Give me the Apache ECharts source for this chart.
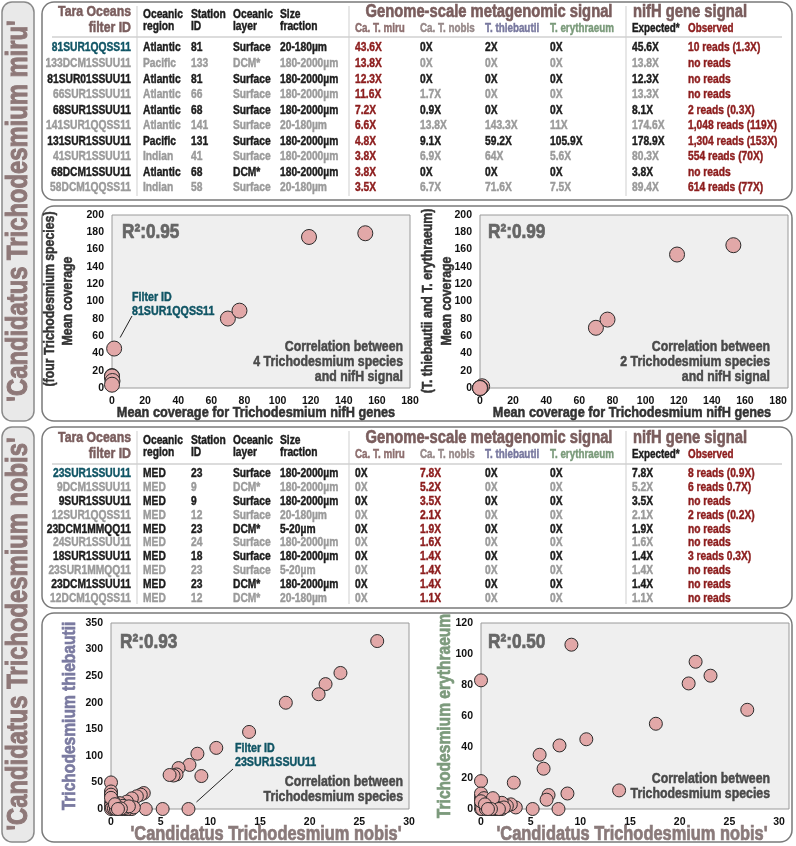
<!DOCTYPE html>
<html><head><meta charset="utf-8">
<script src="https://cdn.jsdelivr.net/npm/echarts@6/dist/echarts.min.js"></script>
<style>html,body{margin:0;padding:0;background:#fff}#c{width:796px;height:846px}</style>
</head><body><div id="c"></div><script>
// ---------- DATA: 'Candidatus Trichodesmium miru' table ----------
const t1Ids = ['81SUR1QQSS11','133DCM1SSUU11','81SUR01SSUU11','66SUR1SSUU11','68SUR1SSUU11','141SUR1QQSS11','131SUR1SSUU11','41SUR1SSUU11','68DCM1SSUU11','58DCM1QQSS11'];
const t1Region = ['Atlantic','Pacific','Atlantic','Atlantic','Atlantic','Atlantic','Pacific','Indian','Atlantic','Indian'];
const t1Station = ['81','133','81','66','68','141','131','41','68','58'];
const t1Layer = ['Surface','DCM*','Surface','Surface','Surface','Surface','Surface','Surface','DCM*','Surface'];
const t1Size = ['20-180µm','180-2000µm','180-2000µm','180-2000µm','180-2000µm','20-180µm','180-2000µm','180-2000µm','180-2000µm','20-180µm'];
const t1Miru = ['43.6X','13.8X','12.3X','11.6X','7.2X','6.6X','4.8X','3.8X','3.8X','3.5X'];
const t1Nobis = ['0X','0X','0X','1.7X','0.9X','13.8X','9.1X','6.9X','0X','6.7X'];
const t1Thieb = ['2X','0X','0X','0X','0X','143.3X','59.2X','64X','0X','71.6X'];
const t1Eryth = ['0X','0X','0X','0X','0X','11X','105.9X','5.6X','0X','7.5X'];
const t1Expected = ['45.6X','13.8X','12.3X','13.3X','8.1X','174.6X','178.9X','80.3X','3.8X','89.4X'];
const t1Observed = ['10 reads (1.3X)','no reads','no reads','no reads','2 reads (0.3X)','1,048 reads (119X)','1,304 reads (153X)','554 reads (70X)','no reads','614 reads (77X)'];

// scatter: nifH observed coverage vs expected coverage
const s1NifH = [1.3, 0, 0, 0, 0.3, 119, 153, 70, 0, 77];
const s1FourSpecies = [45.6, 13.8, 12.3, 13.3, 8.1, 174.6, 178.9, 80.3, 3.8, 89.4];
const s1TwoSpecies = [2, 0, 0, 0, 0, 154.3, 165.1, 69.6, 0, 79.1];

// ---------- DATA: 'Candidatus Trichodesmium nobis' table ----------
const t2Ids = ['23SUR1SSUU11','9DCM1SSUU11','9SUR1SSUU11','12SUR1QQSS11','23DCM1MMQQ11','24SUR1SSUU11','18SUR1SSUU11','23SUR1MMQQ11','23DCM1SSUU11','12DCM1QQSS11'];
const t2Region = ['MED','MED','MED','MED','MED','MED','MED','MED','MED','MED'];
const t2Station = ['23','9','9','12','23','24','18','23','23','12'];
const t2Layer = ['Surface','DCM*','Surface','Surface','DCM*','Surface','Surface','Surface','DCM*','DCM*'];
const t2Size = ['180-2000µm','180-2000µm','180-2000µm','20-180µm','5-20µm','180-2000µm','180-2000µm','5-20µm','180-2000µm','20-180µm'];
const t2Miru = ['0X','0X','0X','0X','0X','0X','0X','0X','0X','0X'];
const t2Nobis = ['7.8X','5.2X','3.5X','2.1X','1.9X','1.6X','1.4X','1.4X','1.4X','1.1X'];
const t2Thieb = ['0X','0X','0X','0X','0X','0X','0X','0X','0X','0X'];
const t2Eryth = ['0X','0X','0X','0X','0X','0X','0X','0X','0X','0X'];
const t2Expected = ['7.8X','5.2X','3.5X','2.1X','1.9X','1.6X','1.4X','1.4X','1.4X','1.1X'];
const t2Observed = ['8 reads (0.9X)','6 reads 0.7X)','no reads','2 reads (0.2X)','no reads','no reads','3 reads 0.3X)','no reads','no reads','no reads'];

// scatter: species coverages across samples
const s2Nobis = [26.8,23.1,21.6,20.9,17.6,13.9,10.6,9.1,8.7,7.9,6.8,6.6,6.3,5.9,7.8,5.2,3.5,3.3,3.0,2.6,2.1,1.6,1.1,0.6,0,0,0,0,0,0,0,0.1,0.3,0.5,0.8,1.4,1.9,2.1,1.6,1.1,1.4,0.9,0.2,0,2.3,1.2,0.4,1.8,1.0,0.7];
const s2Thieb = [316,256,235,216,200,145,115,62,104,83,77,65,63,64,0,0,0,30,27,24,20,14,8,5,50,30,33,27,12,6,0,2,1,0,3,0,0,0,0,0,2,11,16,21,3,6,9,5,1,0];
const s2Eryth = [64,86,95,81,55,12,45,106,10,41,9,6,26,35,0,0,1,17,3,2,4,1,2,5,83,18,8,6,10,3,0,0,7,0,1,0,0,0,0,0,0,2,4,5,1,7,3,0,0,0];

// ---------- RENDER ----------
const chart = echarts.init(document.getElementById('c'), null, {renderer: 'canvas'});
const F = '"Liberation Sans",Arial,Helvetica,sans-serif';
const SX = 0.82; // horizontal squeeze to mimic a condensed face
const font = sz => 'bold ' + sz + 'px ' + F;
const BROWN = '#7a5d5d', RED = '#8c1c1c', TEAL = '#0f5464', DARK = '#1c1c1c', LIGHT = '#9a9a9a';

function T(x, y, text, sz, color, align, extra) {
  const c = color || DARK;
  return Object.assign({type: 'text', x: x, y: y, z: 100, silent: true, scaleX: SX,
    style: {text: text, font: font(sz), fill: c, stroke: c, lineWidth: Math.max(0.35, sz * 0.035),
      textAlign: align || 'left', textVerticalAlign: 'middle', align: align || 'left', verticalAlign: 'middle'}}, extra || {});
}
function R(x, y, w, h, fill, stroke, r, z) {
  return {type: 'rect', z: z === undefined ? -10 : z, silent: true, shape: {x: x, y: y, width: w, height: h, r: r || 0},
    style: {fill: fill, stroke: stroke, lineWidth: 1.5}};
}
function L(x1, y1, x2, y2, color, w, z) {
  return {type: 'line', z: z || 50, silent: true, shape: {x1: x1, y1: y1, x2: x2, y2: y2}, style: {stroke: color, lineWidth: w || 1}};
}

const colX = {id: 131, region: 143, station: 191, layer: 233, size: 280, miru: 355, nobis: 420, thieb: 485, eryth: 550, exp: 632, obs: 688};

function tableHeader(y) {
  const e = [];
  e.push(T(colX.id, y, 'Tara Oceans', 15, BROWN, 'right'));
  e.push(T(colX.id, y + 16, 'filter ID', 15, BROWN, 'right'));
  [['Oceanic', 'region', colX.region], ['Station', 'ID', colX.station], ['Oceanic', 'layer', colX.layer], ['Size', 'fraction', colX.size]].forEach(h => {
    e.push(T(h[2], y + 3, h[0], 12.5, DARK));
    e.push(T(h[2], y + 15, h[1], 12.5, DARK));
  });
  e.push(T(489, y, 'Genome-scale metagenomic signal', 18, BROWN, 'center'));
  e.push(T(colX.miru, y + 17, 'Ca. T. miru', 12, '#8d6e6e'));
  e.push(T(colX.nobis, y + 17, 'Ca. T. nobis', 12, '#968888'));
  e.push(T(colX.thieb, y + 17, 'T. thiebautii', 12, '#77779e'));
  e.push(T(colX.eryth, y + 17, 'T. erythraeum', 12, '#7a9a7a'));
  e.push(T(633, y, 'nifH gene signal', 18, BROWN));
  e.push(T(colX.exp, y + 17, 'Expected*', 12, DARK));
  e.push(T(colX.obs, y + 17, 'Observed', 12, RED));
  return e;
}
function tableRows(y0, step, sz, cols, redKey) {
  const e = [];
  const n = cols.id.length;
  for (let i = 0; i < n; i++) {
    const y = y0 + i * step;
    const c = i % 2 === 0 ? DARK : LIGHT;
    e.push(T(colX.id, y, cols.id[i], sz, i === 0 ? TEAL : c, 'right'));
    ['region', 'station', 'layer', 'size', 'miru', 'nobis', 'thieb', 'eryth', 'exp'].forEach(k => {
      e.push(T(colX[k], y, cols[k][i], sz, k === redKey ? RED : c));
    });
    e.push(T(colX.obs, y, cols.obs[i], sz, RED));
  }
  return e;
}

const g = [];
// left side label boxes
g.push(R(2, 2, 32, 419, '#e9e9e9', '#8a8a8a', 10));
g.push(R(2, 427, 32, 415, '#e9e9e9', '#8a8a8a', 10));
g.push(T(19, 211, "'Candidatus Trichodesmium miru'", 29, '#8e7878', 'center', {rotation: Math.PI / 2}));
g.push(T(19, 634, "'Candidatus Trichodesmium nobis'", 29, '#8e7878', 'center', {rotation: Math.PI / 2}));
// right panels
g.push(R(42, 2, 750, 198, '#fff', '#7a7a7a', 12));
g.push(R(42, 206, 750, 215, '#fff', '#7a7a7a', 12));
g.push(R(42, 427, 750, 181, '#fff', '#7a7a7a', 12));
g.push(R(42, 613, 750, 229, '#fff', '#7a7a7a', 12));
// table 1
g.push(...tableHeader(12));
g.push(L(52, 37, 782, 37, '#dcdcdc', 2));
[137, 349, 626].forEach(x => g.push(L(x, 6, x, 196, '#cfcfcf', 1)));
g.push(...tableRows(48, 15.56, 12.5, {id: t1Ids, region: t1Region, station: t1Station, layer: t1Layer, size: t1Size, miru: t1Miru, nobis: t1Nobis, thieb: t1Thieb, eryth: t1Eryth, exp: t1Expected, obs: t1Observed}, 'miru'));
// table 2
g.push(...tableHeader(438));
g.push(L(52, 464, 782, 464, '#dcdcdc', 2));
[137, 349, 626].forEach(x => g.push(L(x, 431, x, 604, '#cfcfcf', 1)));
g.push(...tableRows(474, 13.8, 12.5, {id: t2Ids, region: t2Region, station: t2Station, layer: t2Layer, size: t2Size, miru: t2Miru, nobis: t2Nobis, thieb: t2Thieb, eryth: t2Eryth, exp: t2Expected, obs: t2Observed}, 'nobis'));

// scatter annotations
const GREY = '#666';
g.push(T(122, 232, 'R²:0.95', 21, GREY));
g.push(T(488, 232, 'R²:0.99', 21, GREY));
g.push(T(120, 642, 'R²:0.93', 21, GREY));
g.push(T(488, 642, 'R²:0.50', 21, GREY));
g.push(T(132, 297, 'Filter ID', 13, TEAL));
g.push(T(132, 311, '81SUR1QQSS11', 13, TEAL));
g.push(T(235, 748, 'Filter ID', 13, TEAL));
g.push(T(235, 762, '23SUR1SSUU11', 13, TEAL));
const CG = '#4a4a4a';
['Correlation between', '4 Trichodesmium species', 'and nifH signal'].forEach((s, i) => g.push(T(403, 347 + i * 15, s, 15, CG, 'right')));
['Correlation between', '2 Trichodesmium species', 'and nifH signal'].forEach((s, i) => g.push(T(770, 347 + i * 15, s, 15, CG, 'right')));
['Correlation between', 'Trichodesmium species'].forEach((s, i) => g.push(T(403, 782 + i * 15, s, 15, CG, 'right')));
['Correlation between', 'Trichodesmium species'].forEach((s, i) => g.push(T(770, 779 + i * 15, s, 15, CG, 'right')));
// axis titles
g.push(T(256, 413, 'Mean coverage for Trichodesmium nifH genes', 15.5, '#333', 'center'));
g.push(T(632, 413, 'Mean coverage for Trichodesmium nifH genes', 15.5, '#333', 'center'));
g.push(T(68, 301, 'Mean coverage', 15, '#333', 'center', {rotation: Math.PI / 2}));
g.push(T(50, 299, '(four Trichodesmium species)', 15, '#333', 'center', {rotation: Math.PI / 2}));
g.push(T(447, 301, 'Mean coverage', 15, '#333', 'center', {rotation: Math.PI / 2}));
g.push(T(428, 301, '(T. thiebautii and T. erythraeum)', 15, '#333', 'center', {rotation: Math.PI / 2}));
g.push(T(266, 834, "'Candidatus Trichodesmium nobis'", 20, '#8a7a7a', 'center'));
g.push(T(632, 834, "'Candidatus Trichodesmium nobis'", 20, '#8a7a7a', 'center'));
g.push(T(70, 716, 'Trichodesmium thiebautii', 19, '#7a7aa0', 'center', {rotation: Math.PI / 2}));
g.push(T(445, 716, 'Trichodesmium erythraeum', 19, '#7c9a7c', 'center', {rotation: Math.PI / 2}));

const zip = (a, b) => a.map((v, i) => [v, b[i]]);
function gridCfg(left, top, w, h) {
  return {left: left, top: top, width: w, height: h, show: true, backgroundColor: '#efefef', borderColor: '#9a9a9a', borderWidth: 1};
}
const AXF = {fontFamily: F, fontWeight: 'bold', fontSize: 10.5, color: '#111'};
function axisX(gi, max, interval) {
  return {type: 'value', gridIndex: gi, min: 0, max: max, interval: interval,
    axisLine: {show: false}, axisTick: {show: false}, splitLine: {show: false},
    axisLabel: Object.assign({margin: 8, formatter: v => (v % interval === 0 ? String(v) : '')}, AXF)};
}
function axisY(gi, max, interval) {
  return {type: 'value', gridIndex: gi, min: 0, max: max, interval: interval,
    axisLine: {show: false}, axisTick: {show: false}, splitLine: {show: false},
    axisLabel: Object.assign({margin: 8}, AXF)};
}
function sc(i, data, size) {
  return {type: 'scatter', xAxisIndex: i, yAxisIndex: i, data: data, symbolSize: size, clip: false,
    itemStyle: {color: '#e2a8a8', borderColor: '#2b2b2b', borderWidth: 1, opacity: 1}};
}

chart.setOption({
  animation: false,
  grid: [gridCfg(112, 215, 298, 173), gridCfg(480, 215, 308, 173), gridCfg(111, 623, 298, 186), gridCfg(481, 623, 308, 186)],
  xAxis: [axisX(0, 180, 20), axisX(1, 186, 20), axisX(2, 30, 5), axisX(3, 31, 5)],
  yAxis: [axisY(0, 200, 20), axisY(1, 200, 20), axisY(2, 350, 50), axisY(3, 120, 20)],
  series: [
    sc(0, zip(s1NifH, s1FourSpecies), 15),
    sc(1, zip(s1NifH, s1TwoSpecies), 15),
    sc(2, zip(s2Nobis, s2Thieb), 13),
    sc(3, zip(s2Nobis, s2Eryth), 13)
  ]
});

// leader lines from the highlighted samples to their labels
const p1 = chart.convertToPixel({xAxisIndex: 0, yAxisIndex: 0}, [s1NifH[0], s1FourSpecies[0]]);
const p2 = chart.convertToPixel({xAxisIndex: 2, yAxisIndex: 2}, [s2Nobis[14], s2Thieb[14]]);
g.push(L(p1[0] + 6, p1[1] - 11, 132, 316, '#222', 1, 60));
g.push(L(p2[0] + 8, p2[1] - 7, 233, 769, '#222', 1, 60));

chart.setOption({graphic: {elements: g}});
</script></body></html>
